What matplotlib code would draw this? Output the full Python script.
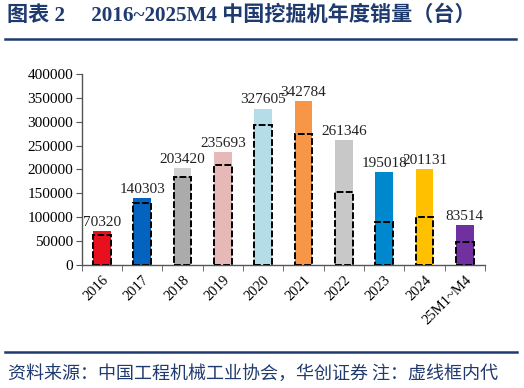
import matplotlib
matplotlib.use("Agg")
import matplotlib.pyplot as plt
from matplotlib.lines import Line2D

categories = ["2016", "2017", "2018", "2019", "2020", "2021", "2022", "2023", "2024", "25M1~M4"]
total_sales = [70320, 140303, 203420, 235693, 327605, 342784, 261346, 195018, 201131, 83514]
domestic_sales = [62500, 130000, 184500, 209000, 292500, 274357, 151812, 89980, 100543, 48259]
bar_colors = ["#E8101E", "#0563C0", "#D0D0D0", "#E6B9B8", "#B4DDE8",
              "#F79646", "#C8C8C8", "#0088CE", "#FFC000", "#7030A0"]
inner_colors = ["#E8101E", "#0563C0", "#ABABAB", "#E6B9B8", "#B4DDE8",
                "#F79646", "#C8C8C8", "#0088CE", "#FFC000", "#7030A0"]
y_ticks = [0, 50000, 100000, 150000, 200000, 250000, 300000, 350000, 400000]

navy = "#1F3A6E"
serif = ["Liberation Serif", "Noto Sans CJK SC"]

fig = plt.figure(figsize=(5.24, 3.88), dpi=100)
ax = fig.add_axes([0.156, 0.3178, 0.7696, 0.4915])

x = list(range(len(categories)))
w = 0.44
ax.bar(x, total_sales, width=w, color=bar_colors, zorder=2)
ax.bar(x, domestic_sales, width=w, color=inner_colors, edgecolor="black",
       linewidth=1.4, linestyle=(0, (3.5, 1.2)), zorder=3)

for xi, v in zip(x, total_sales):
    ax.annotate(f"{v}", (xi, v), xytext=(0, 1.5), textcoords="offset points",
                ha="center", va="bottom", fontsize=11, family=serif, color="#222222")

ax.set_xlim(-0.5, len(categories) - 0.5)
ax.set_ylim(0, 400000)
ax.set_yticks(y_ticks)
ax.set_yticklabels([str(t) for t in y_ticks], family=serif, fontsize=11)
ax.set_xticks(x)
ax.set_xticklabels(categories, rotation=45, ha="right", rotation_mode="anchor",
                   family=serif, fontsize=10.5)
ax.set_xticks([i - 0.5 for i in range(len(categories) + 1)], minor=True)
ax.tick_params(axis="x", which="major", length=0, pad=6)
ax.tick_params(axis="x", which="minor", length=4, direction="out", color="#555555")
ax.tick_params(axis="y", length=4, direction="out", color="#555555", pad=2)
for s in ["top", "right"]:
    ax.spines[s].set_visible(False)
for s in ["left", "bottom"]:
    ax.spines[s].set_color("#555555")
    ax.spines[s].set_linewidth(1.0)

fig.text(7 / 524, 1 - 16 / 388, "图表 2     2016~2025M4 中国挖掘机年度销量（台）",
         family=serif, fontsize=15.2, fontweight="bold", color=navy,
         ha="left", va="center")
fig.add_artist(Line2D([5 / 524, 516 / 524], [1 - 38.5 / 388] * 2, color=navy, linewidth=1.8))
fig.add_artist(Line2D([5 / 524, 517 / 524], [1 - 352.3 / 388] * 2, color=navy, linewidth=1.8))
fig.text(8 / 524, 1 - 373.5 / 388, "资料来源：中国工程机械工业协会，华创证券 注：虚线框内代",
         family=["Noto Sans CJK SC", "DejaVu Sans"], fontsize=13.0, color=navy,
         ha="left", va="center")

fig.savefig("out.png", dpi=100)
